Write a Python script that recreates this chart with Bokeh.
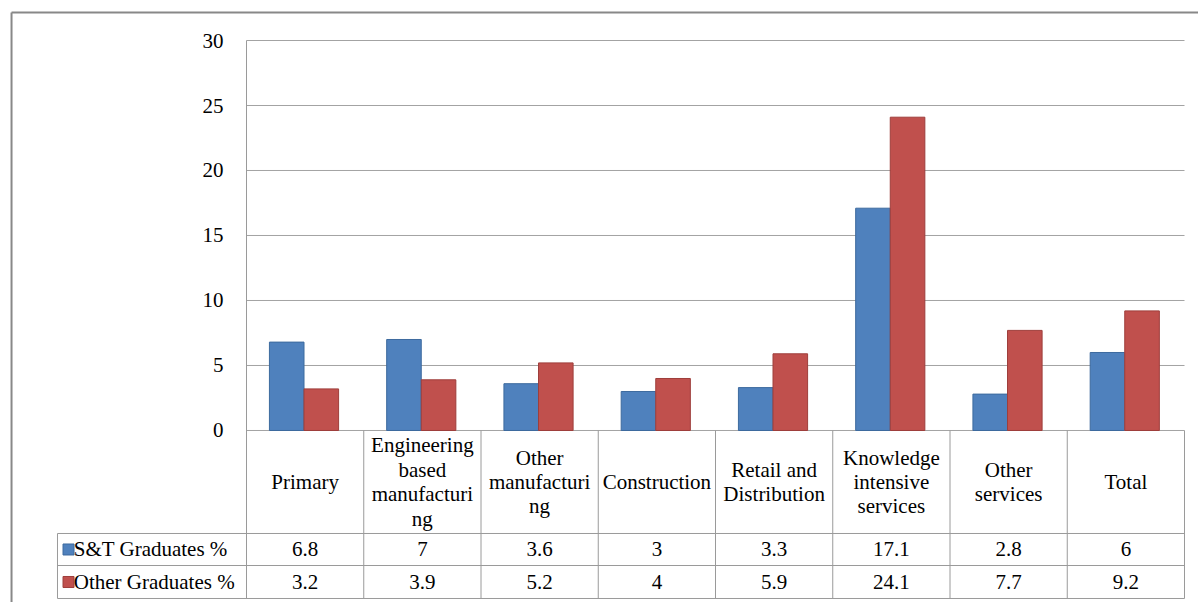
import numpy as np
from bokeh.plotting import figure
from bokeh.models import FixedTicker
from bokeh.core.properties import value
from bokeh.embed import file_html
from bokeh.resources import INLINE

# ---------------- data ----------------
categories = ["Primary", "Engineering based manufacturing", "Other manufacturing",
              "Construction", "Retail and Distribution", "Knowledge intensive services",
              "Other services", "Total"]
category_labels = ["Primary", "Engineering\nbased\nmanufacturi\nng", "Other\nmanufacturi\nng",
                   "Construction", "Retail and\nDistribution", "Knowledge\nintensive\nservices",
                   "Other\nservices", "Total"]
st_graduates = [6.8, 7, 3.6, 3, 3.3, 17.1, 2.8, 6]
other_graduates = [3.2, 3.9, 5.2, 4, 5.9, 24.1, 7.7, 9.2]
series_names = ["S&T Graduates %", "Other Graduates %"]
y_ticks = [0, 5, 10, 15, 20, 25, 30]

# ---------------- style / layout ----------------
BLUE, BLUE_EDGE = "#4F81BD", "#3D6A9E"
RED, RED_EDGE = "#C0504D", "#9E3E3B"
GRID = "#A3A3A3"
TABLE = "#9A9A9A"
FRAME = "#888888"
FONT_NAME = "Liberation Serif"
FONT = value(FONT_NAME)
FS = "21px"

n = len(categories)
X_LEFT, X_RIGHT = -2.0981, 8.1194
Y_BOTTOM, Y_TOP = -13.231, 33.077
ROW_CAT, ROW1, ROW2 = -7.923, -10.385, -12.923
LEG_LEFT = -1.612
BORDER_X, BORDER_Y = -2.004, 32.154

p = figure(width=1198, height=602, x_range=(X_LEFT, X_RIGHT), y_range=(Y_BOTTOM, Y_TOP),
           x_axis_type=None, output_backend="svg", toolbar_location=None,
           min_border=0, background_fill_color="white", border_fill_color="white")
p.outline_line_color = None
p.ygrid.visible = False

ax = p.yaxis[0]
ax.fixed_location = 0
ax.ticker = FixedTicker(ticks=y_ticks)
ax.axis_line_color = None
ax.major_tick_line_color = None
ax.minor_tick_line_color = None
ax.major_tick_out = 0
ax.major_tick_in = 0
ax.major_label_standoff = 23
ax.major_label_text_font = FONT_NAME
ax.major_label_text_font_size = FS
ax.major_label_text_color = "black"

# outer chart border
p.segment(x0=BORDER_X, x1=X_RIGHT, y0=BORDER_Y, y1=BORDER_Y, line_color=FRAME, line_width=2)
p.segment(x0=BORDER_X, x1=BORDER_X, y0=BORDER_Y, y1=Y_BOTTOM, line_color=FRAME, line_width=2)

# gridlines
p.segment(x0=0, x1=n, y0=y_ticks, y1=y_ticks, line_color=GRID, line_width=1)

# bars
xs = np.arange(n) + 0.5
p.vbar(x=xs - 0.157, top=st_graduates, bottom=0, width=0.295,
       fill_color=BLUE, line_color=BLUE_EDGE, line_width=1)
p.vbar(x=xs + 0.138, top=other_graduates, bottom=0, width=0.295,
       fill_color=RED, line_color=RED_EDGE, line_width=1)

# data table lines
vx = list(range(n + 1))
p.segment(x0=vx, x1=vx, y0=[max(y_ticks)] + [0] * n, y1=ROW2, line_color=TABLE, line_width=1)
p.segment(x0=LEG_LEFT, x1=LEG_LEFT, y0=ROW_CAT, y1=ROW2, line_color=TABLE, line_width=1)
p.segment(x0=LEG_LEFT, x1=n, y0=[ROW_CAT, ROW1, ROW2], y1=[ROW_CAT, ROW1, ROW2],
          line_color=TABLE, line_width=1)

# category labels
p.text(x=xs, y=ROW_CAT / 2, text=category_labels, text_align="center", text_baseline="middle",
       text_font=FONT, text_font_size=FS, text_line_height=1.02, text_color="black")

# values
row_y = [(ROW_CAT + ROW1) / 2, (ROW1 + ROW2) / 2]
for vals, yy in zip([st_graduates, other_graduates], row_y):
    p.text(x=xs, y=yy, text=[f"{v:g}" for v in vals], text_align="center",
           text_baseline="middle", text_font=FONT, text_font_size=FS, text_color="black")

# legend keys in table
p.scatter(x=[-1.518, -1.518], y=row_y, marker="square", size=11,
          fill_color=[BLUE, RED], line_color=[BLUE_EDGE, RED_EDGE])
p.text(x=-1.4733, y=row_y, text=series_names, text_align="left", text_baseline="middle",
       text_font=FONT, text_font_size=FS, text_color="black")

open("out.html", "w").write(file_html(p, INLINE))
